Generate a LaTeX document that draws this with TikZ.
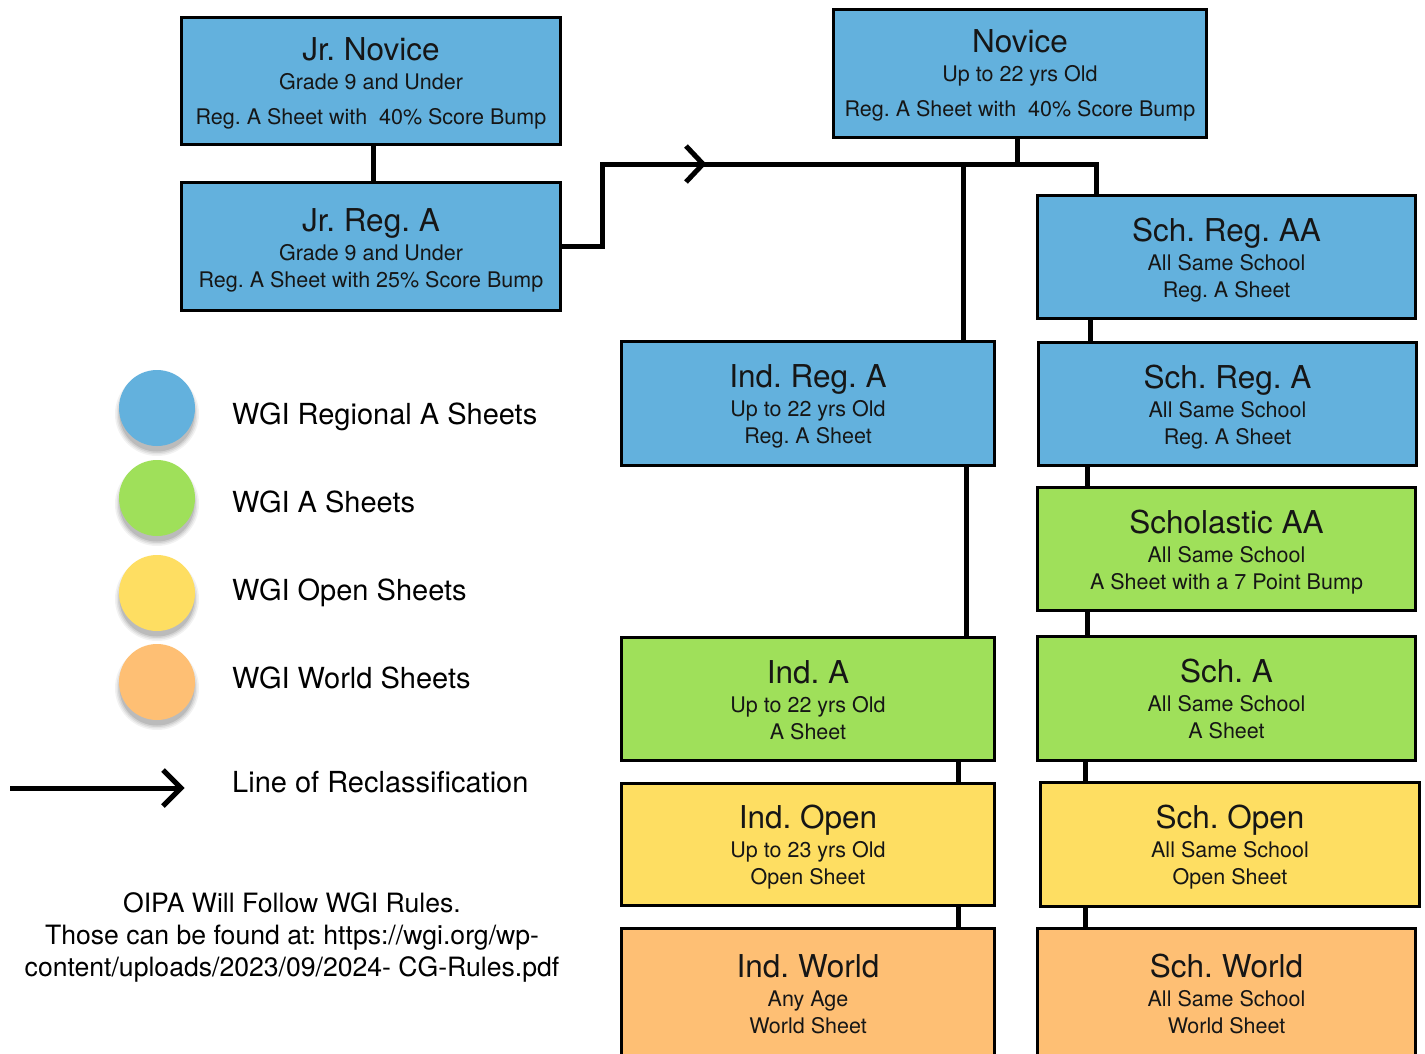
\documentclass[tikz,border=0pt]{standalone}
\usepackage{fontspec}
\setmainfont{TeX Gyre Heros}
\definecolor{cblue}{RGB}{99,177,221}
\definecolor{cgreen}{RGB}{159,224,90}
\definecolor{cyellow}{RGB}{254,222,98}
\definecolor{corange}{RGB}{254,191,116}
\definecolor{ink}{RGB}{22,22,22}
\def\oA{16}\def\oB{-13}\def\oC{-40}
\newcommand\mkbox[9]{%
 \pgfmathsetmacro\cbx{(#2+#4)/2}%
 \pgfmathsetmacro\cby{(#3+#5)/2}%
 \pgfmathsetmacro\cbw{#4-#2-3}%
 \pgfmathsetmacro\cbh{#5-#3-3}%
 \node[box, fill=#6, minimum width=\cbw pt, minimum height=\cbh pt] (#1) at (\cbx,\cby) {};
 \node[ttl] (#1-t) at ([yshift=\oA pt]#1.center) {#7};
 \node[sub] (#1-a) at ([yshift=\oB pt]#1.center) {#8};
 \node[sub] (#1-b) at ([yshift=\oC pt]#1.center) {#9};
}
\newcommand\vlink[3]{%
 \coordinate (#1-x) at (#3,0);
 \draw[conn] (#1.south -| #1-x) -- (#2.north -| #1-x);
}
\newcommand\legdot[3]{%
 \foreach \rr/\oo in {42/0.05,40.5/0.06,39/0.08,37.5/0.10}
   \fill[black, opacity=\oo] (#2,#3+6) circle (\rr pt);
 \node[dot, fill=#1] at (#2,#3) {};
}
\begin{document}
\frenchspacing
\begin{tikzpicture}[x=1pt,y=-1pt,
 box/.style={draw=black, line width=3pt, inner sep=0pt, rectangle},
 ttl/.style={font=\fontsize{31.5}{36}\selectfont\frenchspacing, text=ink, inner sep=0pt, anchor=base},
 sub/.style={font=\fontsize{21.5}{25}\selectfont\frenchspacing, text=ink, inner sep=0pt, anchor=base},
 conn/.style={line width=5pt, draw=black, line join=miter},
 leg/.style={font=\fontsize{29}{34}\selectfont, text=black, inner sep=0pt, anchor=base west},
 dot/.style={circle, inner sep=0pt, minimum size=76pt},
 note/.style={font=\fontsize{26.6}{32}\selectfont\frenchspacing, align=center, inner sep=0pt, text=black}]
\useasboundingbox (0,0) rectangle (1425,1053);
\fill[white] (0,0) rectangle (1425,1053);

% boxes
\def\oA{21}\def\oB{-8}\def\oC{-43}
\mkbox{jrn}{180}{16}{562}{146}{cblue}{Jr. Novice}{Grade 9 and Under}{Reg. A Sheet with\ \ 40\% Score Bump}
\mkbox{nov}{832}{8}{1208}{139}{cblue}{Novice}{Up to 22 yrs Old}{Reg. A Sheet with\ \ 40\% Score Bump}
\def\oA{15}\def\oB{-14}\def\oC{-41}
\mkbox{jra}{180}{181}{562}{312}{cblue}{Jr. Reg. A}{Grade 9 and Under}{Reg. A Sheet with 25\% Score Bump}
\def\oA{16}\def\oB{-13}\def\oC{-40}
\mkbox{scaa}{1036}{194}{1417}{320}{cblue}{Sch. Reg. AA}{All Same School}{Reg. A Sheet}
\mkbox{ira}{620}{340}{996}{467}{cblue}{Ind. Reg. A}{Up to 22 yrs Old}{Reg. A Sheet}
\mkbox{scra}{1037}{341}{1418}{467}{cblue}{Sch. Reg. A}{All Same School}{Reg. A Sheet}
\mkbox{scs}{1036}{486}{1417}{612}{cgreen}{Scholastic AA}{All Same School}{A Sheet with a 7 Point Bump}
\mkbox{ia}{620}{636}{996}{762}{cgreen}{Ind. A}{Up to 22 yrs Old}{A Sheet}
\mkbox{sca}{1036}{635}{1417}{762}{cgreen}{Sch. A}{All Same School}{A Sheet}
\mkbox{io}{620}{782}{996}{907}{cyellow}{Ind. Open}{Up to 23 yrs Old}{Open Sheet}
\mkbox{sco}{1039}{781}{1421}{908}{cyellow}{Sch. Open}{All Same School}{Open Sheet}
\mkbox{iw}{620}{927}{996}{1060}{corange}{Ind. World}{Any Age}{World Sheet}
\mkbox{scw}{1036}{927}{1417}{1060}{corange}{Sch. World}{All Same School}{World Sheet}

% connectors
\coordinate (jA) at (602,164);
\coordinate (jB) at (1096,164);
\coordinate (jC) at (963,164);
\coordinate (chev) at (703,164);
\draw[conn] (jra.east) -- (jra.east -| jA) -- (jA) -- (jB) -- (jB |- scaa.north);
\draw[conn] ([xshift=-3pt]nov.south) -- ([xshift=-3pt]nov.south |- jB);
\draw[conn] (jC) -- (jC |- ira.north);
\draw[conn] ([shift={(-17,-18)}]chev) -- (chev) -- ([shift={(-17,18)}]chev);
\vlink{jrn}{jra}{373}
\vlink{ira}{ia}{966}
\vlink{ia}{io}{958}
\vlink{io}{iw}{958}
\vlink{scaa}{scra}{1090}
\vlink{scra}{scs}{1087}
\vlink{scs}{sca}{1087}
\vlink{sca}{sco}{1085}
\vlink{sco}{scw}{1085}

% legend
\legdot{cblue}{157}{408}
\legdot{cgreen}{157}{498}
\legdot{cyellow}{157}{593}
\legdot{corange}{157}{682}
\node[leg] (l1) at (232,424) {WGI Regional A Sheets};
\node[leg] (l2) at (232,512) {WGI A Sheets};
\node[leg] (l3) at (232,600) {WGI Open Sheets};
\node[leg] (l4) at (232,688) {WGI World Sheets};
\node[leg] (l5) at (232,792) {Line of Reclassification};
\coordinate (la0) at (10,788);
\coordinate (la1) at (181,788);
\draw[conn] (la0) -- (la1);
\draw[conn] ([shift={(-18,-18)}]la1) -- (la1) -- ([shift={(-18,18)}]la1);

% note
\node[note] (note) at (292,937) {OIPA Will Follow WGI Rules.\\Those can be found at: https://wgi.org/wp-\\content/uploads/2023/09/2024- CG-Rules.pdf};
\end{tikzpicture}
\end{document}
